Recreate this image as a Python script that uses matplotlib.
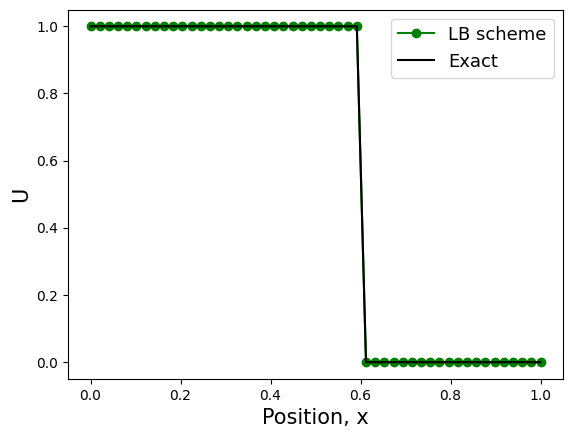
import numpy as np
import matplotlib
matplotlib.use('Agg')
import matplotlib.pyplot as plt

# grid of 50 nodes on [0, 1]
x = np.linspace(0.0, 1.0, 50)

# LB scheme result
u_lb = [1.0] * 30 + [0.0] * 20
# exact solution: step at x = 0.6
u_exact = [1.0] * 30 + [0.0] * 20

fig = plt.figure(figsize=(5.73, 4.38), dpi=100)
ax = fig.add_axes([68 / 573, 1 - 379 / 438, (563 - 68) / 573, (379 - 9.5) / 438])

ax.plot(x, u_lb, 'o-', color='green', label='LB scheme')
ax.plot(x, u_exact, '-', color='black', label='Exact')

ax.set_xlabel('Position, x', fontsize=15)
ax.set_ylabel('U', fontsize=15)
ax.legend(fontsize=13)

fig.savefig('out.png', dpi=100)
